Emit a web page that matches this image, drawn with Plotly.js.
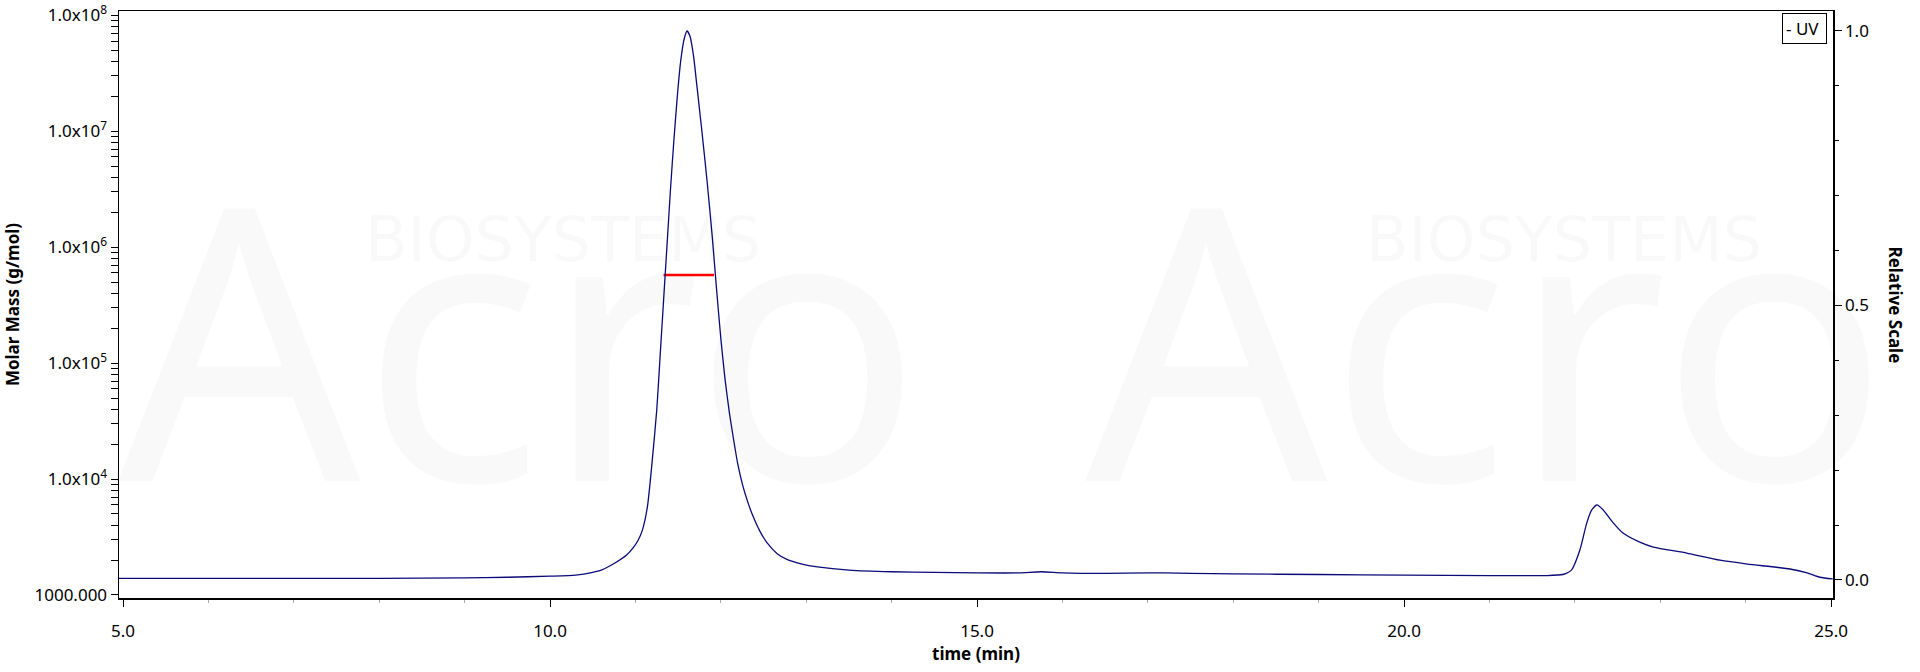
<!DOCTYPE html>
<html>
<head>
<meta charset="utf-8">
<script src="https://cdn.plot.ly/plotly-3.0.1.min.js"></script>
<style>html,body{margin:0;padding:0;background:#fff;}#chart{width:1920px;height:672px;}</style>
</head>
<body>
<div id="chart"></div>
<script>
// UV trace (relative scale)
const uvTime = [4.95, 6.0, 7.0, 8.0, 9.0, 9.5, 10.0, 10.3, 10.5, 10.6, 10.75, 10.9, 10.97, 11.03, 11.08, 11.14, 11.19, 11.25, 11.29, 11.33, 11.37, 11.41, 11.45, 11.49, 11.53, 11.57, 11.605, 11.64, 11.68, 11.72, 11.78, 11.84, 11.90, 11.95, 12.00, 12.05, 12.10, 12.14, 12.20, 12.26, 12.32, 12.38, 12.46, 12.54, 12.66, 12.78, 12.95, 13.13, 13.5, 14.0, 14.5, 15.0, 15.5, 15.75, 16.0, 16.5, 17.0, 17.2, 17.5, 18.0, 19.0, 20.0, 21.0, 21.65, 21.86, 21.96, 22.06, 22.14, 22.20, 22.26, 22.33, 22.45, 22.56, 22.76, 22.92, 23.31, 23.70, 24.02, 24.52, 24.72, 24.87, 25.02];
const uvValue = [0.003, 0.003, 0.003, 0.003, 0.004, 0.005, 0.007, 0.009, 0.014, 0.018, 0.030, 0.046, 0.058, 0.072, 0.090, 0.133, 0.206, 0.310, 0.410, 0.510, 0.610, 0.710, 0.800, 0.880, 0.945, 0.985, 1.000, 0.990, 0.955, 0.900, 0.815, 0.725, 0.625, 0.530, 0.440, 0.365, 0.305, 0.265, 0.210, 0.170, 0.140, 0.115, 0.088, 0.068, 0.048, 0.037, 0.029, 0.024, 0.018, 0.015, 0.014, 0.013, 0.013, 0.015, 0.013, 0.012, 0.013, 0.013, 0.012, 0.011, 0.010, 0.009, 0.008, 0.008, 0.010, 0.018, 0.055, 0.104, 0.128, 0.137, 0.128, 0.104, 0.086, 0.069, 0.060, 0.049, 0.036, 0.029, 0.020, 0.013, 0.005, 0.002];

// Molar mass (red) across the main peak
const mmTime = [11.33, 11.40, 11.50, 11.60, 11.70, 11.80, 11.92];
const mmValue = [5.75e5, 5.74e5, 5.74e5, 5.74e5, 5.74e5, 5.74e5, 5.74e5];

// Tick labels
const yTickVals = [1e3, 1e4, 1e5, 1e6, 1e7, 1e8];
const yTickText = ["1000.000", "1.0x10<sup>4</sup>", "1.0x10<sup>5</sup>", "1.0x10<sup>6</sup>", "1.0x10<sup>7</sup>", "1.0x10<sup>8</sup>"];
const xTickVals = [5, 10, 15, 20, 25];
const xTickText = ["5.0", "10.0", "15.0", "20.0", "25.0"];
const y2TickVals = [0, 0.5, 1.0];
const y2TickText = ["0.0", "0.5", "1.0"];

const minorLog = [];
for (let e = 3; e < 8; e++) for (let m = 2; m <= 9; m++) minorLog.push(m * Math.pow(10, e));

const FONT = "Noto Sans, Open Sans, sans-serif";
const WM = "rgba(0,0,0,0.022)";

const traces = [
  {x: uvTime, y: uvValue, yaxis: 'y2', type: 'scatter', mode: 'lines', name: 'UV',
   line: {color: '#0a0a78', width: 1.3, shape: 'spline', smoothing: 0.6}},
  {x: mmTime, y: mmValue, yaxis: 'y', type: 'scatter', mode: 'lines', name: 'Molar Mass',
   line: {color: '#ff0000', width: 2.5}}
];

const layout = {
  width: 1920, height: 672,
  margin: {l: 119, r: 87, t: 11, b: 74},
  paper_bgcolor: '#ffffff', plot_bgcolor: '#ffffff',
  showlegend: false,
  font: {family: FONT, size: 17, color: '#000'},
  xaxis: {
    range: [4.953, 25.023], tickvals: xTickVals, ticktext: xTickText,
    ticks: 'outside', ticklen: 7, tickcolor: '#000', tickwidth: 1,
    ticklabelstandoff: 10,
    showline: true, linecolor: '#000', linewidth: 1.5, mirror: true,
    showgrid: false, zeroline: false,
    tickfont: {family: FONT, size: 17},
    minor: {dtick: 1, tick0: 0, ticks: 'outside', ticklen: 3, tickcolor: '#aaa', showgrid: false},
    title: {text: '<b>time (min)</b>', font: {family: FONT, size: 17}, standoff: 4}
  },
  yaxis: {
    type: 'log', range: [2.974, 8.037],
    tickvals: yTickVals, ticktext: yTickText,
    ticks: 'outside', ticklen: 7, tickcolor: '#000',
    showline: true, linecolor: '#000', linewidth: 1.5,
    showgrid: false, zeroline: false,
    tickfont: {family: FONT, size: 17},
    minor: {tickvals: minorLog, ticks: 'outside', ticklen: 7, tickcolor: '#000', showgrid: false},
    title: {text: '<b>Molar Mass (g/mol)</b>', font: {family: FONT, size: 17}, standoff: 10}
  },
  yaxis2: {
    overlaying: 'y', side: 'right', range: [-0.0328, 1.0364],
    tickvals: y2TickVals, ticktext: y2TickText,
    ticks: 'outside', ticklen: 7, tickcolor: '#000',
    showline: true, linecolor: '#000', linewidth: 1.5,
    showgrid: false, zeroline: false,
    tickfont: {family: FONT, size: 17},
    minor: {dtick: 0.1, tick0: 0, ticks: 'outside', ticklen: 4, tickcolor: '#000', showgrid: false}
  },
  annotations: [
    {xref: 'paper', yref: 'paper', x: 1.0, y: 0.5, xanchor: 'center', yanchor: 'middle', xshift: 62,
     text: '<b>Relative Scale</b>', textangle: 90, showarrow: false,
     font: {family: FONT, size: 17, color: '#000'}},
    {xref: 'paper', yref: 'paper', x: 0.9965, y: 0.9966, xanchor: 'right', yanchor: 'top',
     text: '-&nbsp;UV&nbsp;', showarrow: false, bordercolor: '#000', borderwidth: 1, borderpad: 3,
     bgcolor: '#fff', font: {family: FONT, size: 17, color: '#000'}},
    {xref: 'paper', yref: 'paper', x: 0.234, y: 0.45, xanchor: 'center', yanchor: 'middle',
     text: 'Acro', showarrow: false, font: {family: FONT, size: 380, color: WM}},
    {xref: 'paper', yref: 'paper', x: 0.798, y: 0.45, xanchor: 'center', yanchor: 'middle',
     text: 'Acro', showarrow: false, font: {family: FONT, size: 380, color: WM}},
    {xref: 'paper', yref: 'paper', x: 0.259, y: 0.61, xanchor: 'center', yanchor: 'middle',
     text: 'BIOSYSTEMS', showarrow: false, font: {family: 'DejaVu Sans, sans-serif', size: 62, color: WM}},
    {xref: 'paper', yref: 'paper', x: 0.843, y: 0.61, xanchor: 'center', yanchor: 'middle',
     text: 'BIOSYSTEMS', showarrow: false, font: {family: 'DejaVu Sans, sans-serif', size: 62, color: WM}}
  ]
};

Plotly.newPlot('chart', traces, layout, {displayModeBar: false, staticPlot: true});
</script>
</body>
</html>
